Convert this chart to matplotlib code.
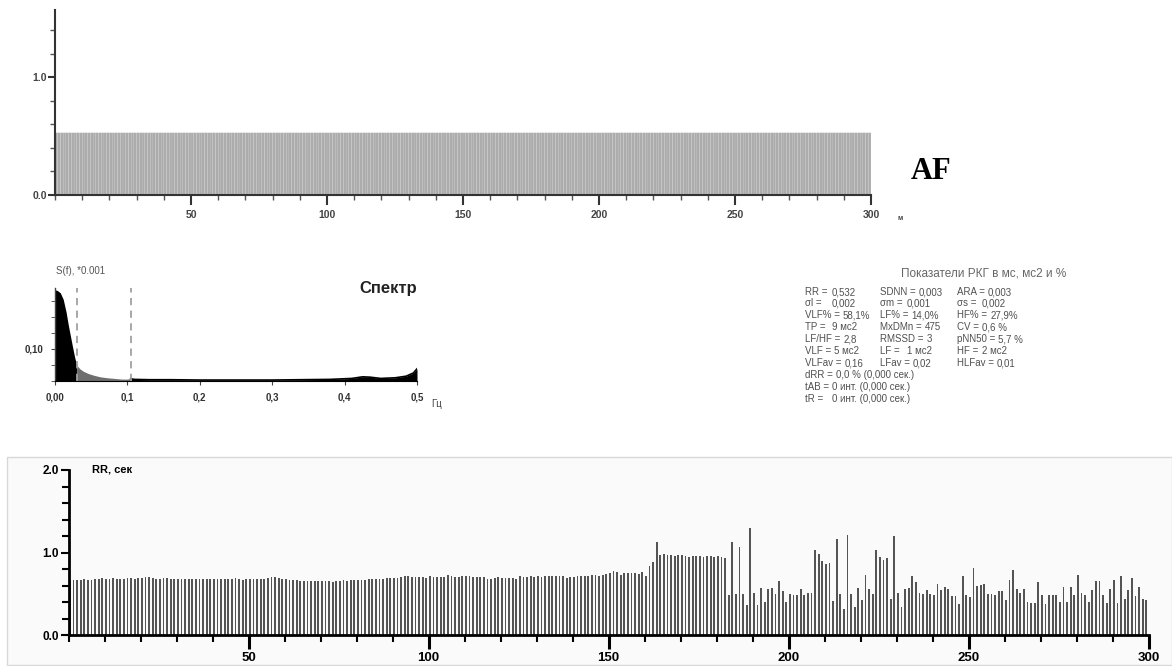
import numpy as np
import matplotlib.pyplot as plt
from matplotlib.patches import Rectangle
from matplotlib.ticker import MultipleLocator, FixedLocator

plt.rcParams['font.family'] = ['Liberation Sans', 'DejaVu Sans']

# ---- данные ----
# верхняя ритмограмма (AF) - ровные интервалы
af_values = [0.53] * 300

# нижняя ритмограмма, RR в сек
rr_values = [
    0.67, 0.67, 0.67, 0.67, 0.68, 0.67, 0.67, 0.68, 0.68, 0.69,
    0.68, 0.68, 0.69, 0.68, 0.68, 0.68, 0.69, 0.69, 0.68, 0.69,
    0.69, 0.70, 0.70, 0.69, 0.68, 0.68, 0.69, 0.69, 0.68, 0.68,
    0.68, 0.68, 0.68, 0.68, 0.68, 0.68, 0.68, 0.68, 0.68, 0.68,
    0.68, 0.68, 0.68, 0.68, 0.68, 0.68, 0.69, 0.68, 0.67, 0.68,
    0.68, 0.68, 0.68, 0.68, 0.68, 0.69, 0.70, 0.70, 0.69, 0.68,
    0.68, 0.67, 0.67, 0.67, 0.66, 0.65, 0.65, 0.65, 0.65, 0.65,
    0.65, 0.65, 0.65, 0.64, 0.66, 0.66, 0.67, 0.66, 0.67, 0.67,
    0.67, 0.67, 0.67, 0.68, 0.68, 0.68, 0.68, 0.68, 0.69, 0.69,
    0.69, 0.69, 0.70, 0.71, 0.71, 0.70, 0.70, 0.70, 0.70, 0.69,
    0.71, 0.70, 0.70, 0.70, 0.70, 0.73, 0.71, 0.70, 0.70, 0.71,
    0.72, 0.72, 0.70, 0.70, 0.70, 0.70, 0.68, 0.68, 0.69, 0.70,
    0.69, 0.69, 0.69, 0.69, 0.68, 0.72, 0.70, 0.70, 0.71, 0.70,
    0.71, 0.70, 0.71, 0.71, 0.71, 0.71, 0.71, 0.71, 0.69, 0.70,
    0.70, 0.71, 0.71, 0.72, 0.72, 0.73, 0.73, 0.72, 0.73, 0.74,
    0.75, 0.77, 0.76, 0.73, 0.75, 0.75, 0.75, 0.75, 0.74, 0.76,
    0.72, 0.84, 0.88, 1.13, 0.97, 0.98, 0.97, 0.97, 0.96, 0.97,
    0.97, 0.96, 0.95, 0.96, 0.96, 0.96, 0.95, 0.96, 0.96, 0.95,
    0.96, 0.95, 0.93, 0.48, 1.13, 0.50, 1.07, 0.50, 0.36, 1.30,
    0.51, 0.36, 0.57, 0.40, 0.56, 0.57, 0.50, 0.65, 0.53, 0.40,
    0.50, 0.48, 0.48, 0.56, 0.48, 0.51, 0.51, 1.03, 0.98, 0.90,
    0.86, 0.87, 0.41, 1.16, 0.50, 0.32, 1.21, 0.50, 0.34, 0.57,
    0.43, 0.73, 0.56, 0.50, 1.03, 0.95, 0.91, 0.93, 0.44, 1.20,
    0.51, 0.34, 0.56, 0.57, 0.72, 0.64, 0.51, 0.50, 0.54, 0.50,
    0.49, 0.62, 0.54, 0.58, 0.56, 0.47, 0.47, 0.38, 0.72, 0.48,
    0.46, 0.81, 0.60, 0.61, 0.62, 0.50, 0.50, 0.49, 0.53, 0.53,
    0.43, 0.67, 0.79, 0.56, 0.51, 0.56, 0.40, 0.39, 0.39, 0.64,
    0.48, 0.38, 0.48, 0.49, 0.48, 0.40, 0.58, 0.40, 0.58, 0.48,
    0.73, 0.51, 0.48, 0.40, 0.54, 0.66, 0.65, 0.49, 0.39, 0.56,
    0.67, 0.39, 0.72, 0.44, 0.54, 0.69, 0.47, 0.58, 0.44, 0.43,
]

# спектр S(f)
spec_freq = [0.000, 0.004, 0.008, 0.012, 0.016, 0.019, 0.022, 0.025, 0.028, 0.031,
             0.035, 0.040, 0.047, 0.054, 0.063, 0.073, 0.083, 0.092, 0.100, 0.105,
             0.110, 0.130, 0.160, 0.200, 0.250, 0.300, 0.340, 0.380, 0.410, 0.425,
             0.435, 0.450, 0.470, 0.485, 0.495, 0.500]
spec_power = [0.285, 0.282, 0.275, 0.255, 0.215, 0.175, 0.140, 0.105, 0.072, 0.048,
              0.038, 0.030, 0.023, 0.018, 0.013, 0.010, 0.008, 0.006, 0.006, 0.007,
              0.005, 0.004, 0.004, 0.003, 0.003, 0.003, 0.004, 0.005, 0.008, 0.013,
              0.012, 0.008, 0.010, 0.015, 0.025, 0.038]
vlf_edge = 0.031
lf_edge = 0.105

x_ticks = [50, 100, 150, 200, 250, 300]
spec_ticks = [0.0, 0.1, 0.2, 0.3, 0.4, 0.5]
spec_tick_labels = ['0,00', '0,1', '0,2', '0,3', '0,4', '0,5']

table_title = 'Показатели РКГ в мс, мс2 и %'
table_rows = [
    [('RR =', '0,532'), ('SDNN =', '0,003'), ('ARA =', '0,003')],
    [('σl =', '0,002'), ('σm =', '0,001'), ('σs =', '0,002')],
    [('VLF% =', '58,1%'), ('LF% =', '14,0%'), ('HF% =', '27,9%')],
    [('TP =', '9 мс2'), ('MxDMn =', '475'), ('CV =', '0,6 %')],
    [('LF/HF =', '2,8'), ('RMSSD =', '3'), ('pNN50 =', '5,7 %')],
    [('VLF =', '5 мс2'), ('LF =', '1 мс2'), ('HF =', '2 мс2')],
    [('VLFav =', '0,16'), ('LFav =', '0,02'), ('HLFav =', '0,01')],
    [('dRR =', '0,0 % (0,000 сек.)')],
    [('tAB =', '0 инт. (0,000 сек.)')],
    [('tR =', '0 инт. (0,000 сек.)')],
]

W, H = 1172, 666
fig = plt.figure(figsize=(W / 100, H / 100), dpi=100)


def box(x0, y0, x1, y1):
    # пиксели картинки -> доли фигуры
    return [x0 / W, 1 - y1 / H, (x1 - x0) / W, (y1 - y0) / H]


# ---- верхний график AF ----
ax1 = fig.add_axes(box(55, 10, 871, 195))
n = np.arange(1, len(af_values) + 1)
ax1.bar(n - 0.5, af_values, width=0.95, color='#acacac', linewidth=0, snap=False)
ax1.set_xlim(0, 300)
ax1.set_ylim(0, 1.574)
for s in ['top', 'right']:
    ax1.spines[s].set_visible(False)
for s in ['left', 'bottom']:
    ax1.spines[s].set_color('#333333')
    ax1.spines[s].set_linewidth(1.5)
ax1.set_yticks([0.0, 1.0])
ax1.set_yticklabels(['0.0', '1.0'])
ax1.yaxis.set_minor_locator(MultipleLocator(0.2))
ax1.xaxis.set_major_locator(FixedLocator(x_ticks))
ax1.xaxis.set_minor_locator(MultipleLocator(10))
ax1.tick_params(axis='both', which='major', color='#333333', labelcolor='#444444',
                labelsize=7.5, width=1.5)
ax1.tick_params(axis='y', which='major', length=5, pad=1)
ax1.tick_params(axis='x', which='major', length=7, pad=4)
ax1.tick_params(which='minor', length=3.5, width=1, color='#555555')
for lab in ax1.get_xticklabels() + ax1.get_yticklabels():
    lab.set_fontweight('bold')

fig.text(897 / W, 1 - 219 / H, 'м', fontsize=5, color='#444444', fontweight='bold',
         va='center')
fig.text(931 / W, 1 - 172 / H, 'AF', family=['Liberation Serif', 'DejaVu Serif'],
         fontsize=22, fontweight='bold', ha='center', va='center')

# ---- спектр ----
ax2 = fig.add_axes(box(54.5, 288, 417, 381))
f = np.array(spec_freq)
p = np.array(spec_power)
ax2.fill_between(f, p, where=f <= vlf_edge, color='black', linewidth=0)
ax2.fill_between(f, p, where=(f >= vlf_edge) & (f <= lf_edge), color='#6e6e6e',
                 linewidth=0)
ax2.fill_between(f, p, where=f >= lf_edge, color='black', linewidth=0)
ax2.plot(f[f >= lf_edge], p[f >= lf_edge], color='black', lw=1.2)
ax2.axvline(vlf_edge, color='#a0a0a0', ls=(0, (4, 3)), lw=1.3)
ax2.axvline(lf_edge, color='#a0a0a0', ls=(0, (4, 3)), lw=1.3)
ax2.set_xlim(0, 0.5)
ax2.set_ylim(0, 0.29)
ax2.set_facecolor('none')
for s in ['top', 'right']:
    ax2.spines[s].set_visible(False)
ax2.spines['left'].set_color('#444444')
ax2.spines['left'].set_linewidth(1)
ax2.spines['bottom'].set_color('black')
ax2.set_xticks(spec_ticks)
ax2.set_xticklabels(spec_tick_labels)
ax2.set_yticks([0.10])
ax2.set_yticklabels(['0,10'])
ax2.yaxis.set_minor_locator(MultipleLocator(0.05))
ax2.tick_params(axis='both', which='major', labelsize=7, labelcolor='#333333',
                color='#444444', length=3, pad=5)
ax2.tick_params(which='minor', length=3, color='#444444')
for lab in ax2.get_xticklabels() + ax2.get_yticklabels():
    lab.set_fontweight('bold')

fig.text(56 / W, 1 - 271 / H, 'S(f), *0.001', fontsize=7, color='#555555', va='center')
fig.text(388 / W, 1 - 288 / H, 'Спектр', fontsize=12, fontweight='bold',
         color='#222222', ha='center', va='center')
fig.text(431 / W, 1 - 404 / H, 'Гц', fontsize=7, color='#444444', va='center')

# ---- таблица показателей ----
fig.text(984 / W, 1 - 276 / H, table_title, fontsize=8.5, color='#666666',
         ha='center', va='baseline')
row_y = [295, 306, 318, 330, 342, 354, 366, 378, 390, 402]   # базовые линии
label_x = [805, 880, 957]
value_x = [832, 907, 982]
renderer = fig.canvas.get_renderer()
for y, row in zip(row_y, table_rows):
    for k, (name, val) in enumerate(row):
        t = fig.text(label_x[k] / W, 1 - y / H, name, fontsize=7, color='#505050',
                     va='baseline')
        # длинное имя сдвигает значение вправо
        right = t.get_window_extent(renderer).x1
        vx = max(value_x[k], right + 3)
        fig.text(vx / W, 1 - y / H, val, fontsize=7, color='#505050', va='baseline')

# ---- нижний график RR ----
fig.patches.append(Rectangle((7 / W, 1 - 665 / H), (W - 7) / W, (665 - 457) / H,
                             transform=fig.transFigure, facecolor='#fafafa',
                             edgecolor='#d8d8d8', lw=1, zorder=-5))
ax3 = fig.add_axes(box(68.5, 470, 1148.5, 635))
ax3.set_facecolor('none')
ax3.set_zorder(2)
m = np.arange(1, len(rr_values) + 1)
ax3.bar(m - 0.6, rr_values, width=0.5, color='#545454', linewidth=0)
ax3.set_xlim(0, 300)
ax3.set_ylim(0, 2.0)
for s in ['top', 'right']:
    ax3.spines[s].set_visible(False)
for s in ['left', 'bottom']:
    ax3.spines[s].set_color('black')
    ax3.spines[s].set_linewidth(2)
ax3.set_yticks([0.0, 1.0, 2.0])
ax3.set_yticklabels(['0.0', '1.0', '2.0'])
ax3.yaxis.set_minor_locator(MultipleLocator(0.2))
ax3.xaxis.set_major_locator(FixedLocator(x_ticks))
ax3.xaxis.set_minor_locator(MultipleLocator(10))
ax3.tick_params(axis='y', which='major', length=6, width=1.5, labelsize=8.5, pad=1)
ax3.tick_params(axis='x', which='major', length=10, width=2.2, labelsize=9.5, pad=2)
ax3.tick_params(which='minor', length=5, width=1.5)
for lab in ax3.get_xticklabels() + ax3.get_yticklabels():
    lab.set_fontweight('bold')

fig.text(92 / W, 1 - 469 / H, 'RR, сек', fontsize=8, fontweight='bold', va='center',
         zorder=3)

fig.savefig('out.png', dpi=100)
